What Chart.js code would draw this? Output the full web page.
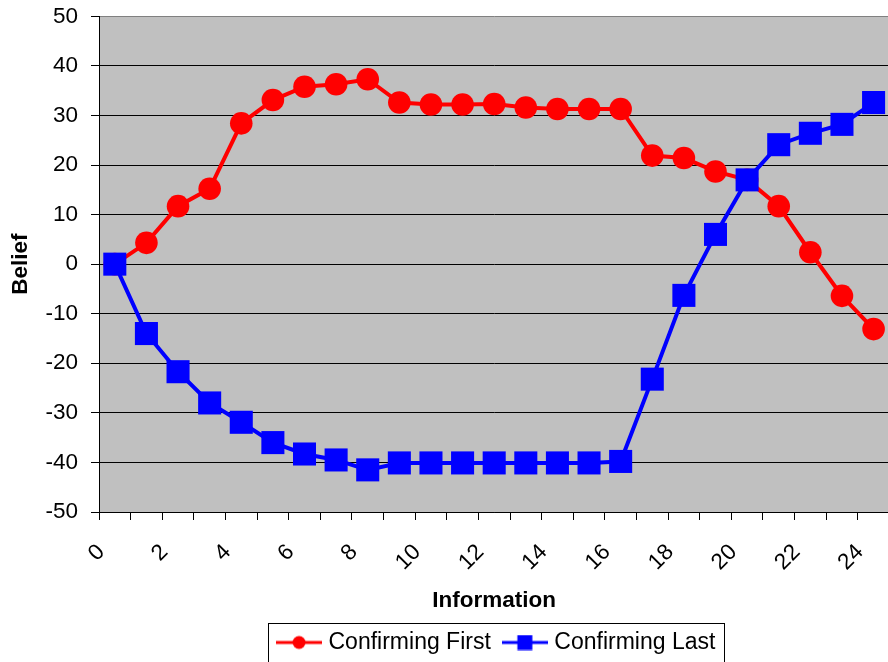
<!DOCTYPE html>
<html>
<head>
<meta charset="utf-8">
<script src="https://cdn.jsdelivr.net/npm/chart.js@4/dist/chart.umd.min.js"></script>
<style>
  html, body { margin: 0; padding: 0; background: #fff; overflow: hidden; }
  #wrap { position: relative; width: 888px; height: 662px; overflow: hidden; }
  #chart { position: absolute; left: 0; top: 0; }
</style>
</head>
<body>
<div id="wrap"><canvas id="chart" width="912" height="672"></canvas></div>
<script>
// values
const information = [0, 1, 2, 3, 4, 5, 6, 7, 8, 9, 10, 11, 12, 13, 14, 15, 16, 17, 18, 19, 20, 21, 22, 23, 24];
const confirmingFirst = [0, 4.3, 11.7, 15.2, 28.4, 33.1, 35.8, 36.3, 37.3, 32.6, 32.2, 32.2, 32.3, 31.6, 31.3, 31.3, 31.3, 21.9, 21.4, 18.7, 17.0, 11.7, 2.4, -6.4, -13.1];
const confirmingLast = [0, -14.0, -21.7, -28.0, -31.9, -36.0, -38.3, -39.5, -41.5, -40.1, -40.1, -40.1, -40.1, -40.1, -40.1, -40.1, -39.8, -23.2, -6.3, 6.0, 17.0, 24.1, 26.4, 28.2, 32.6];

const RED = '#ff0000';
const BLUE = '#0000ff';
const FONT = '"Liberation Sans", Arial, sans-serif';

Chart.defaults.font.family = FONT;
Chart.defaults.color = '#000';

// little line + marker pictures for the legend
function legendIcon(color, shape) {
    const c = document.createElement('canvas');
    c.width = 46;
    c.height = 16;
    const g = c.getContext('2d');
    g.strokeStyle = color;
    g.fillStyle = color;
    g.lineWidth = 3;
    g.beginPath();
    g.moveTo(0, 8);
    g.lineTo(46, 8);
    g.stroke();
    if (shape === 'circle') {
        g.beginPath();
        g.arc(23, 8, 6.5, 0, Math.PI * 2);
        g.fill();
    } else {
        g.fillRect(15.5, 0.5, 15, 15);
    }
    return c;
}
const icons = [legendIcon(RED, 'circle'), legendIcon(BLUE, 'rect')];

const plotBackground = {
    id: 'plotBackground',
    beforeDraw(chart) {
        const a = chart.chartArea;
        const ctx = chart.ctx;
        ctx.save();
        ctx.fillStyle = '#c0c0c0';
        ctx.fillRect(a.left, a.top, a.right - a.left, a.bottom - a.top);
        ctx.restore();
    }
};

const legendFrame = {
    id: 'legendFrame',
    afterLayout(chart) {
        // nudge the legend a little to the right, like the original
        chart.legend.left += 4;
        chart.legend.right += 4;
    },
    afterDraw(chart) {
        const boxes = chart.legend.legendHitBoxes;
        if (!boxes || !boxes.length) return;
        const first = boxes[0];
        const last = boxes[boxes.length - 1];
        const mid = first.top + first.height / 2;
        const left = Math.round(first.left - 13) + 0.5;
        const right = Math.round(last.left + last.width + 9) + 0.5;
        const top = Math.round(mid - 20) + 0.5;
        const bottom = Math.round(mid + 22) + 0.5;
        const ctx = chart.ctx;
        ctx.save();
        ctx.strokeStyle = '#000';
        ctx.lineWidth = 1;
        ctx.strokeRect(left, top, right - left, bottom - top);
        ctx.restore();
    }
};

const ctx = document.getElementById('chart').getContext('2d');
new Chart(ctx, {
    type: 'line',
    data: {
        labels: information,
        datasets: [{
            label: 'Confirming First',
            data: confirmingFirst,
            borderColor: RED,
            backgroundColor: RED,
            borderWidth: 4,
            pointStyle: 'circle',
            pointRadius: 11.3,
            pointBorderWidth: 0,
            pointBackgroundColor: RED,
            tension: 0,
            order: 1,
            clip: false
        }, {
            label: 'Confirming Last',
            data: confirmingLast,
            borderColor: BLUE,
            backgroundColor: BLUE,
            borderWidth: 4,
            pointStyle: 'rect',
            pointRadius: 16.3,
            pointBorderWidth: 0,
            pointBackgroundColor: BLUE,
            tension: 0,
            order: 0,
            clip: false
        }]
    },
    options: {
        responsive: false,
        animation: false,
        devicePixelRatio: 1,
        layout: {
            padding: { left: 0, top: 15, right: 8, bottom: 8 }
        },
        scales: {
            x: {
                type: 'category',
                offset: true,
                grid: {
                    offset: true,
                    drawOnChartArea: false,
                    tickLength: 8,
                    color: '#000',
                    lineWidth: 1
                },
                border: { color: '#000', width: 1 },
                ticks: {
                    autoSkip: false,
                    minRotation: 45,
                    maxRotation: 45,
                    padding: 19,
                    labelOffset: -13.7,
                    font: { size: 22.5 },
                    color: '#000',
                    callback: function (value) {
                        const v = this.getLabelForValue(value);
                        return v % 2 === 0 ? String(v) : '';
                    }
                },
                title: {
                    display: true,
                    text: 'Information',
                    font: { size: 22.5, weight: 'bold', lineHeight: 1.2 },
                    padding: { top: 0, bottom: 1 },
                    color: '#000'
                },
                afterFit(scale) { scale.height = 103; }
            },
            y: {
                min: -50,
                max: 50,
                ticks: {
                    stepSize: 10,
                    padding: 13,
                    font: { size: 22.5 },
                    color: '#000'
                },
                grid: {
                    tickLength: 8,
                    tickColor: '#000',
                    lineWidth: 1,
                    color: (c) => (c.tick && c.tick.value === 50 ? '#808080' : '#000')
                },
                border: { color: '#000', width: 1 },
                title: {
                    display: true,
                    text: 'Belief',
                    font: { size: 22.5, weight: 'bold', lineHeight: 1.2 },
                    padding: { top: 7, bottom: 0 },
                    color: '#000'
                },
                afterFit(scale) {
                    scale.width = 99;
                    scale.paddingTop = 0;
                    scale.paddingBottom = 0;
                }
            }
        },
        plugins: {
            legend: {
                position: 'bottom',
                fullSize: false,
                labels: {
                    usePointStyle: true,
                    pointStyleWidth: 36,
                    padding: 16,
                    color: '#000',
                    font: { size: 23 },
                    sort: (a, b) => a.datasetIndex - b.datasetIndex,
                    generateLabels(chart) {
                        const items = Chart.defaults.plugins.legend.labels.generateLabels(chart);
                        items.forEach(function (it) {
                            it.pointStyle = icons[it.datasetIndex];
                        });
                        return items;
                    }
                }
            },
            tooltip: { enabled: false }
        }
    },
    plugins: [plotBackground, legendFrame]
});
</script>
</body>
</html>
